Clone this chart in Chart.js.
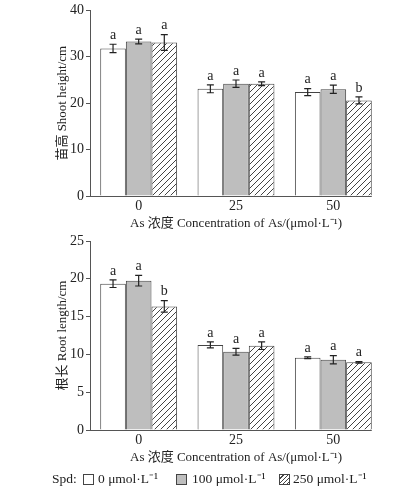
<!DOCTYPE html>
<html>
<head>
<meta charset="utf-8">
<script src="https://cdn.jsdelivr.net/npm/chart.js@4/dist/chart.umd.min.js"></script>
<style>
  body { margin: 0; background: #fff; width: 407px; height: 491px; position: relative; overflow: hidden; }
  .box { position: absolute; left: 0; width: 407px; }
  #legend { position: absolute; top: 470px; left: 0; width: 407px; height: 18px;
    font-family: 'Liberation Serif', 'Noto Sans CJK SC', serif; font-size: 13.5px; color: #222; }
  #legend span { position: absolute; top: 0; line-height: 18px; white-space: nowrap; }
  #legend i { position: absolute; top: 4px; width: 9px; height: 9px; border: 1px solid #444; }
</style>
</head>
<body>
<div class="box" style="top:0;height:232px"><canvas id="shoot" width="407" height="232"></canvas></div>
<div class="box" style="top:230px;height:236px"><canvas id="root" width="407" height="236"></canvas></div>
<div id="legend">
  <span style="left:52px">Spd:</span>
  <i style="left:83px;background:#fff"></i><span style="left:98px">0 μmol·L⁻¹</span>
  <i style="left:176px;background:#bebebe"></i><span style="left:192px">100 μmol·L⁻¹</span>
  <i style="left:279px;background:repeating-linear-gradient(135deg,#fff 0 2px,#444 2px 3px)"></i><span style="left:293px">250 μmol·L⁻¹</span>
</div>
<script>
// As concentration groups
const categories = ['0', '25', '50'];
const spdLabels = ['0 μmol·L⁻¹', '100 μmol·L⁻¹', '250 μmol·L⁻¹'];

// shoot height (cm)
const shoot0 = [31.8, 23.1, 22.4];
const shoot100 = [33.3, 24.2, 23.0];
const shoot250 = [33.1, 24.2, 20.6];
const shootErr0 = [0.9, 0.85, 0.75];
const shootErr100 = [0.5, 0.8, 0.9];
const shootErr250 = [1.7, 0.4, 0.75];
const shootSig0 = ['a', 'a', 'a'];
const shootSig100 = ['a', 'a', 'a'];
const shootSig250 = ['a', 'a', 'b'];
const shootTicks = [0, 10, 20, 30, 40];

// root length (cm)
const root0 = [19.35, 11.25, 9.55];
const root100 = [19.75, 10.35, 9.3];
const root250 = [16.35, 11.15, 8.95];
const rootErr0 = [0.5, 0.4, 0.12];
const rootErr100 = [0.7, 0.45, 0.55];
const rootErr250 = [0.75, 0.5, 0.1];
const rootSig0 = ['a', 'a', 'a'];
const rootSig100 = ['a', 'a', 'a'];
const rootSig250 = ['b', 'a', 'a'];
const rootTicks = [0, 5, 10, 15, 20, 25];

const serif = "'Liberation Serif', 'Noto Sans CJK SC', serif";
const textColor = '#222';

function hatchPattern() {
  const c = document.createElement('canvas');
  c.width = 6; c.height = 6;
  const g = c.getContext('2d');
  g.fillStyle = '#fff';
  g.fillRect(0, 0, 6, 6);
  g.strokeStyle = '#444';
  g.lineWidth = 1;
  g.beginPath();
  g.moveTo(0, 6); g.lineTo(6, 0);
  g.moveTo(-1, 1); g.lineTo(1, -1);
  g.moveTo(5, 7); g.lineTo(7, 5);
  g.stroke();
  return document.createElement('canvas').getContext('2d').createPattern(c, 'repeat');
}

// error bars, significance letters and the x axis line
const errorPlugin = {
  id: 'errorBars',
  afterDatasetsDraw(chart) {
    const ctx = chart.ctx;
    const y = chart.scales.y;
    let lastRight = chart.chartArea.right;
    ctx.save();
    chart.data.datasets.forEach((ds, di) => {
      const meta = chart.getDatasetMeta(di);
      meta.data.forEach((bar, i) => {
        const v = ds.data[i], e = ds.err[i];
        const yt = y.getPixelForValue(v + e), yb = y.getPixelForValue(v - e);
        ctx.strokeStyle = '#222';
        ctx.lineWidth = 1.2;
        ctx.beginPath();
        ctx.moveTo(bar.x, yt); ctx.lineTo(bar.x, yb);
        ctx.moveTo(bar.x - 3.5, yt); ctx.lineTo(bar.x + 3.5, yt);
        ctx.moveTo(bar.x - 3.5, yb); ctx.lineTo(bar.x + 3.5, yb);
        ctx.stroke();
        ctx.fillStyle = textColor;
        ctx.font = '14px ' + serif;
        ctx.textAlign = 'center';
        ctx.textBaseline = 'bottom';
        ctx.fillText(ds.sig[i], bar.x, yt - 2);
        lastRight = bar.x + bar.width / 2;
      });
    });
    ctx.strokeStyle = '#555';
    ctx.lineWidth = 1;
    ctx.beginPath();
    ctx.moveTo(chart.chartArea.left, chart.chartArea.bottom + 0.5);
    ctx.lineTo(lastRight, chart.chartArea.bottom + 0.5);
    ctx.stroke();
    ctx.restore();
  }
};

function makeChart(id, values, errs, sigs, ticks, yTitle, topPad) {
  const fills = ['#ffffff', '#bebebe', hatchPattern()];
  new Chart(document.getElementById(id), {
    type: 'bar',
    data: {
      labels: categories,
      datasets: values.map((d, k) => ({
        label: spdLabels[k],
        data: d,
        err: errs[k],
        sig: sigs[k],
        backgroundColor: fills[k],
        borderColor: '#444',
        borderWidth: 1,
        barPercentage: 1,
        categoryPercentage: 0.79
      }))
    },
    options: {
      responsive: false,
      animation: false,
      layout: { padding: { top: topPad, right: 25, left: 0, bottom: 0 } },
      plugins: { legend: { display: false }, tooltip: { enabled: false } },
      scales: {
        x: {
          grid: { display: false, drawTicks: false },
          border: { display: false },
          ticks: { color: textColor, font: { family: serif, size: 14 }, padding: 2 },
          title: { display: true, text: 'As 浓度 Concentration of As/(μmol·L⁻¹)', color: textColor,
                   font: { family: serif, size: 13 }, padding: { top: 0, bottom: 1 } },
          afterFit(s) { s.height = 36; }
        },
        y: {
          min: ticks[0],
          max: ticks[ticks.length - 1],
          afterBuildTicks(s) { s.ticks = ticks.map(v => ({ value: v })); },
          grid: { drawOnChartArea: false, drawTicks: true, tickLength: 4, color: '#555' },
          border: { display: true, color: '#555' },
          ticks: { color: textColor, font: { family: serif, size: 14 }, padding: 2 },
          title: { display: true, text: yTitle, color: textColor,
                   font: { family: serif, size: 13 }, padding: { top: 55, bottom: 0 } },
          afterFit(s) { s.width = 90; }
        }
      }
    },
    plugins: [errorPlugin]
  });
}

makeChart('shoot', [shoot0, shoot100, shoot250], [shootErr0, shootErr100, shootErr250],
  [shootSig0, shootSig100, shootSig250], shootTicks, '苗高 Shoot height/cm', 8);
makeChart('root', [root0, root100, root250], [rootErr0, rootErr100, rootErr250],
  [rootSig0, rootSig100, rootSig250], rootTicks, '根长 Root length/cm', 11);
</script>
</body>
</html>
